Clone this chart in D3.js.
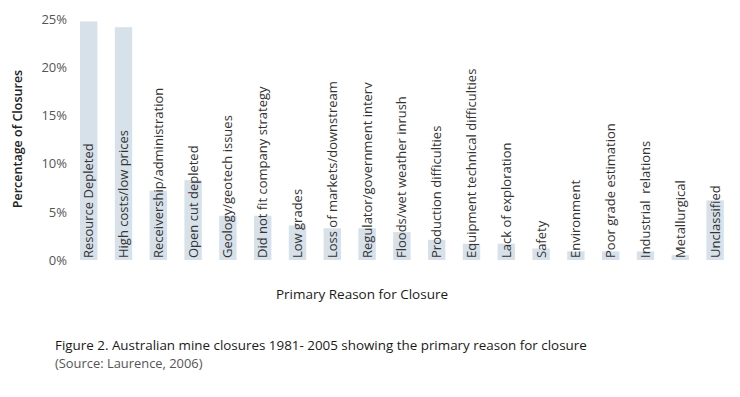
<!DOCTYPE html>
<html>
<head>
<meta charset="utf-8">
<script src="https://cdn.jsdelivr.net/npm/d3@7"></script>
<style>
  html, body { margin: 0; padding: 0; background: #fff; }
  svg { display: block; font-family: "Open Sans", "Noto Sans", sans-serif; }
</style>
</head>
<body>
<svg id="chart" width="740" height="397"></svg>
<script>
// Reasons for closure, in the order they appear along the x axis
const reasons = [
  "Resource Depleted",
  "High costs/low prices",
  "Receivership/administration",
  "Open cut depleted",
  "Geology/geotech issues",
  "Did not fit company strategy",
  "Low grades",
  "Loss of markets/downstream",
  "Regulator/government interv",
  "Floods/wet weather inrush",
  "Production difficulties",
  "Equipment technical difficulties",
  "Lack of exploration",
  "Safety",
  "Environment",
  "Poor grade estimation",
  "Industrial  relations",
  "Metallurgical",
  "Unclassified"
];

// Share of closures (%) per reason
const shares = [24.8, 24.2, 7.2, 8.3, 4.6, 4.6, 3.6, 3.3, 3.3, 2.9, 2.1, 1.7, 1.7, 1.2, 0.9, 0.9, 0.9, 0.5, 6.2];

const yTicks = [0, 5, 10, 15, 20, 25];

const xTitle = "Primary Reason for Closure";
const yTitle = "Percentage of Closures";
const caption = "Figure 2. Australian mine closures 1981- 2005 showing the primary reason for closure";
const source = "(Source: Laurence, 2006)";

const data = reasons.map((r, i) => ({ reason: r, value: shares[i] }));

const svg = d3.select("#chart");

const x = d3.scaleBand()
  .domain(reasons)
  .range([71.3, 732.5])
  .paddingInner(0.5)
  .paddingOuter(0.25);

const y = d3.scaleLinear()
  .domain([0, 25])
  .range([260, 19.5]);

// Bars
svg.append("g")
  .selectAll("rect")
  .data(data)
  .join("rect")
  .attr("x", d => x(d.reason))
  .attr("y", d => y(d.value))
  .attr("width", x.bandwidth())
  .attr("height", d => y(0) - y(d.value))
  .attr("fill", "#d7e1ea");

// Category labels written upward inside each bar
svg.append("g")
  .selectAll("text")
  .data(data)
  .join("text")
  .attr("transform", d => `translate(${x(d.reason) + x.bandwidth() / 2 + 4.5},${y(0) - 2}) rotate(-90)`)
  .attr("text-anchor", "start")
  .attr("font-size", 13)
  .attr("fill", "#333")
  .style("white-space", "pre")
  .text(d => d.reason);

// Y axis: tick labels only
const yAxis = d3.axisLeft(y)
  .tickValues(yTicks)
  .tickFormat(d => d + "%")
  .tickSize(0)
  .tickPadding(0);

const gy = svg.append("g")
  .attr("transform", "translate(67,0)")
  .call(yAxis);
gy.select(".domain").remove();
gy.selectAll("text")
  .attr("font-family", "\"Open Sans\", sans-serif")
  .attr("font-size", 13)
  .attr("fill", "#555");

// Axis titles
svg.append("text")
  .attr("transform", "translate(22,139) rotate(-90)")
  .attr("text-anchor", "middle")
  .attr("font-size", 12.5)
  .attr("font-weight", 600)
  .attr("fill", "#222")
  .text(yTitle);

svg.append("text")
  .attr("x", 362)
  .attr("y", 299)
  .attr("text-anchor", "middle")
  .attr("font-size", 13.5)
  .attr("fill", "#1a1a1a")
  .text(xTitle);

// Figure caption
svg.append("text")
  .attr("x", 55)
  .attr("y", 350)
  .attr("font-size", 13.4)
  .attr("font-weight", 500)
  .attr("fill", "#1a1a1a")
  .text(caption);

svg.append("text")
  .attr("x", 55)
  .attr("y", 368)
  .attr("font-size", 12.9)
  .attr("fill", "#555")
  .text(source);
</script>
</body>
</html>
